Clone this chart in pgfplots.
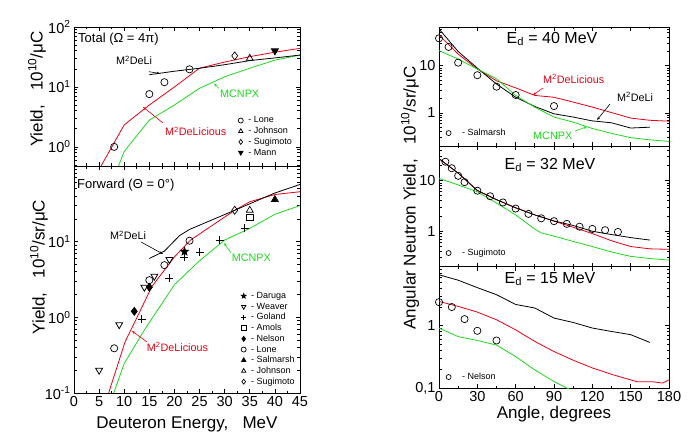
\documentclass[border=0pt]{standalone}
\usepackage{fontspec}
\setmainfont{Liberation Sans}
\usepackage{pgfplots}
\pgfplotsset{compat=1.18}
\usetikzlibrary{arrows.meta}
\definecolor{myred}{RGB}{228,0,20}
\definecolor{mygreen}{RGB}{30,215,30}
\pgfdeclareplotmark{fstar}{%
  \pgfpathmoveto{\pgfpointpolar{90}{\pgfplotmarksize}}%
  \pgfpathlineto{\pgfpointpolar{126}{0.42\pgfplotmarksize}}%
  \pgfpathlineto{\pgfpointpolar{162}{\pgfplotmarksize}}%
  \pgfpathlineto{\pgfpointpolar{198}{0.42\pgfplotmarksize}}%
  \pgfpathlineto{\pgfpointpolar{234}{\pgfplotmarksize}}%
  \pgfpathlineto{\pgfpointpolar{270}{0.42\pgfplotmarksize}}%
  \pgfpathlineto{\pgfpointpolar{306}{\pgfplotmarksize}}%
  \pgfpathlineto{\pgfpointpolar{342}{0.42\pgfplotmarksize}}%
  \pgfpathlineto{\pgfpointpolar{18}{\pgfplotmarksize}}%
  \pgfpathlineto{\pgfpointpolar{54}{0.42\pgfplotmarksize}}%
  \pgfpathclose\pgfusepathqfillstroke}
\newcommand{\fsTick}{\fontsize{14.5}{16}\selectfont}
\newcommand{\fsLab}{\fontsize{17}{19}\selectfont}
\newcommand{\fsAnn}{\fontsize{13}{15}\selectfont}
\newcommand{\fsCurve}{\fontsize{10.8}{12}\selectfont}
\newcommand{\fsLeg}{\fontsize{9}{10}\selectfont}
\newcommand{\fsEd}{\fontsize{16}{18}\selectfont}
\newcommand{\gL}{\hspace*{4pt}}
\newcommand{\gR}{\hspace*{10pt}}
\pgfplotsset{
  every axis/.append style={scale only axis,
    axis line style={line width=0.9pt}, tick style={black, line width=0.7pt},
    major tick length=4pt, minor tick length=2.5pt,
    tick label style={font=\fsTick},
    legend cell align=left, legend image post style={mark size=2.5pt}},
  every axis plot/.append style={line width=0.8pt},
  mk/.style={only marks, black, mark size=3.6pt, mark options={solid, line width=0.7pt}},
}
\begin{document}
\begin{tikzpicture}[x=1pt,y=1pt]
\path[use as bounding box] (0pt,0pt) rectangle (696pt,434pt);

% ---------------- top-left: total
\begin{axis}[at={(74pt,268pt)}, anchor=south west, width=226pt, height=139pt,
  ymode=log, /pgf/number format/assume math mode=true,
  xmin=0, xmax=45, xtick={0,5,...,45}, minor x tick num=1, xticklabels={},
  ymin=0.48, ymax=100, ytick={1,10,100},
  yticklabels={10\textsuperscript{0},10\textsuperscript{1},10\textsuperscript{2}},
  minor ytick={0.5,0.6,0.7,0.8,0.9,2,3,4,5,6,7,8,9,20,30,40,50,60,70,80,90},
  legend style={draw=none, fill=none, at={(0.726,0.367)}, anchor=north west, font=\fsLeg,
    row sep=0pt, inner sep=0pt, nodes={inner sep=1pt, text height=6.8pt, text depth=1.9pt}},
]
\addplot[myred, forget plot] coordinates {(5,0.42)(10,2.33)(15,5.0)(20,10)(25,20.6)(30,26)(35,32)(40,38)(45,44)};
\addplot[mygreen, forget plot] coordinates {(8.6,0.42)(10,0.84)(15,2.8)(20,5)(25,9.5)(30,14.8)(35,20.5)(40,28)(45,34)};
\addplot[black, forget plot] coordinates {(15,16)(20,18.3)(25,20.5)(30,23.5)(35,27.5)(40,30.5)(45,34)};
\addplot[mk, mark=o] coordinates {(8,1.0)(15,7.6)(18,12)(23,19.7)};
\addlegendentry{\gL- Lone}
\addplot[mk, mark=triangle, mark size=4pt] coordinates {(35,30)};
\addlegendentry{\gL- Johnson}
\addplot[mk, mark=diamond, mark size=4pt] coordinates {(32,33)};
\addlegendentry{\gL- Sugimoto}
\addplot[mk, mark=triangle*, mark size=4pt, mark options={rotate=180}] coordinates {(40,40)};
\addlegendentry{\gL- Mann}
\end{axis}

% ---------------- bottom-left: forward
\begin{axis}[at={(74pt,41pt)}, anchor=south west, width=226pt, height=227pt,
  ymode=log, /pgf/number format/assume math mode=true,
  xmin=0, xmax=45, xtick={0,5,...,45}, minor x tick num=1,
  ymin=0.1, ymax=100, ytick={0.1,1,10},
  yticklabels={10\textsuperscript{-1},10\textsuperscript{0},10\textsuperscript{1}},
  minor ytick={0.2,0.3,0.4,0.5,0.6,0.7,0.8,0.9,2,3,4,5,6,7,8,9,20,30,40,50,60,70,80,90},
  legend style={draw=none, fill=none, at={(0.739,0.4515)}, anchor=north west, font=\fsLeg,
    row sep=0pt, inner sep=0pt, nodes={inner sep=1pt, text height=6.8pt, text depth=1.9pt}},
]
\addplot[myred, forget plot] coordinates {(6.9,0.1)(10.2,0.48)(12,0.84)(15.5,2.55)(20,6.3)(23.2,10.5)(32,26)(35,33.7)(40,42)(45,45.7)};
\addplot[mygreen, forget plot] coordinates {(7.9,0.1)(10,0.245)(14,0.68)(20,2.7)(25,5.6)(30,10.5)(35,15)(40,23)(45,30)};
\addplot[black, forget plot] coordinates {(15,6.0)(18,7.5)(21,12)(23,14.5)(32,26)(40,44)(45,57)};
\addplot[mk, mark=fstar, mark size=4.2pt, fill=black] coordinates {(22,7.4)};
\addlegendentry{\gL- Daruga}
\addplot[mk, mark=triangle, mark size=4pt, mark options={rotate=180}] coordinates {(5,0.2)(9,0.8)(14,2.5)(16,3.5)(19,5.8)};
\addlegendentry{\gL- Weaver}
\addplot[mk, mark=+, mark size=4pt] coordinates {(13.5,0.95)(19,3.3)(22,6.3)(25,7.2)(29,10.5)(34,15)};
\addlegendentry{\gL- Goland}
\addplot[mk, mark=square, mark size=3.2pt] coordinates {(35,21)};
\addlegendentry{\gL- Amols}
\addplot[mk, mark=diamond*, mark size=4pt] coordinates {(12,1.2)(15,2.5)};
\addlegendentry{\gL- Nelson}
\addplot[mk, mark=o] coordinates {(8,0.39)(15,3.1)(18,4.9)(23,10.3)};
\addlegendentry{\gL- Lone}
\addplot[mk, mark=triangle*, mark size=4pt] coordinates {(40,36)};
\addlegendentry{\gL- Salmarsh}
\addplot[mk, mark=triangle, mark size=4pt] coordinates {(35,26)};
\addlegendentry{\gL- Johnson}
\addplot[mk, mark=diamond, mark size=4pt] coordinates {(32,26)};
\addlegendentry{\gL- Sugimoto}
\end{axis}

% ---------------- top-right: 40 MeV
\begin{axis}[at={(439pt,288pt)}, anchor=south west, width=230pt, height=119pt,
  ymode=log, /pgf/number format/assume math mode=true,
  xmin=0, xmax=180, xtick={0,30,...,180}, minor x tick num=1, xticklabels={},
  ymin=0.2, ymax=66, ytick={1,10}, yticklabels={1,10},
  minor ytick={0.2,0.3,0.4,0.5,0.6,0.7,0.8,0.9,2,3,4,5,6,7,8,9,20,30,40,50,60},
  legend style={draw=none, fill=none, at={(0.03,0.155)}, anchor=north west, font=\fsLeg,
    inner sep=0pt, nodes={inner sep=1pt, text height=6.8pt, text depth=1.9pt}},
]
\addplot[myred, forget plot] coordinates {(0,45)(15,17.6)(30,8.5)(45,4.8)(60,3.4)(75,2.35)(90,2.15)(105,1.7)(120,1.33)(135,1.02)(150,0.78)(165,0.7)(180,0.67)};
\addplot[black, forget plot] coordinates {(0,60)(15,20)(30,8.9)(45,4.1)(60,2.15)(75,1.37)(90,0.96)(105,0.82)(120,0.68)(135,0.62)(150,0.48)(165,0.5)};
\addplot[mygreen, forget plot] coordinates {(0,21)(15,13.8)(30,8.5)(45,5.3)(60,2.35)(75,1.32)(90,0.82)(105,0.64)(120,0.47)(135,0.37)(150,0.3)(165,0.27)(180,0.25)};
\addplot[mk, mark=o] coordinates {(0,38)(7.5,25)(15,11.6)(30,6.3)(45,3.6)(60,2.4)(90,1.4)};
\addlegendentry{\gR- Salmarsh}
\end{axis}

% ---------------- middle-right: 32 MeV
\begin{axis}[at={(439pt,167.3pt)}, anchor=south west, width=230pt, height=120.7pt,
  ymode=log, /pgf/number format/assume math mode=true,
  xmin=0, xmax=180, xtick={0,30,...,180}, minor x tick num=1, xticklabels={},
  ymin=0.2, ymax=48, ytick={1,10}, yticklabels={1,10},
  minor ytick={0.2,0.3,0.4,0.5,0.6,0.7,0.8,0.9,2,3,4,5,6,7,8,9,20,30,40},
  legend style={draw=none, fill=none, at={(0.03,0.159)}, anchor=north west, font=\fsLeg,
    inner sep=0pt, nodes={inner sep=1pt, text height=6.8pt, text depth=1.9pt}},
]
\addplot[myred, forget plot] coordinates {(0,27)(15,14)(30,6.3)(45,4.2)(60,2.9)(75,2.1)(90,1.58)(105,1.2)(120,0.9)(135,0.65)(150,0.5)(165,0.45)(180,0.44)};
\addplot[black, forget plot] coordinates {(0,27)(15,14)(30,6.4)(45,4.2)(60,2.9)(75,2.1)(90,1.6)(105,1.3)(120,1.0)(135,0.86)(150,0.75)(165,0.67)};
\addplot[mygreen, forget plot] coordinates {(0,11)(15,8.2)(30,6.0)(45,3.6)(60,2.1)(75,1.1)(80,0.93)(90,0.8)(105,0.63)(120,0.5)(135,0.39)(150,0.32)(165,0.29)(180,0.27)};
\addplot[mk, mark=o] coordinates {(5,23.5)(10,17.5)(15,12.4)(20,9.3)(30,6.3)(40,4.9)(50,3.7)(60,2.8)(70,2.2)(80,1.8)(90,1.58)(100,1.4)(110,1.23)(120,1.11)(130,1.05)(140,0.97)};
\addlegendentry{\gR- Sugimoto}
\end{axis}

% ---------------- bottom-right: 15 MeV
\begin{axis}[at={(439pt,46pt)}, anchor=south west, width=230pt, height=121.3pt,
  ymode=log, /pgf/number format/assume math mode=true,
  xmin=0, xmax=180, xtick={0,30,...,180}, minor x tick num=1,
  ymin=0.1, ymax=8.9, ytick={0.1,1}, yticklabels={{0,1},1},
  minor ytick={0.2,0.3,0.4,0.5,0.6,0.7,0.8,0.9,2,3,4,5,6,7,8},
  legend style={draw=none, fill=none, at={(0.03,0.136)}, anchor=north west, font=\fsLeg,
    inner sep=0pt, nodes={inner sep=1pt, text height=6.8pt, text depth=1.9pt}},
]
\addplot[black, forget plot] coordinates {(0,6.6)(15,5.4)(30,4.1)(45,3.16)(60,2.2)(75,1.93)(90,1.33)(105,1.13)(120,0.92)(135,0.81)(150,0.72)(165,0.54)};
\addplot[myred, forget plot] coordinates {(0,2.46)(15,2.05)(30,1.66)(45,1.25)(60,0.86)(75,0.56)(90,0.385)(105,0.28)(120,0.21)(135,0.166)(155,0.126)(167,0.126)(175,0.12)(180,0.135)};
\addplot[mygreen, forget plot] coordinates {(0,0.92)(15,0.67)(30,0.58)(45,0.49)(60,0.32)(75,0.195)(90,0.127)(100,0.1)(105,0.09)};
\addplot[mk, mark=o] coordinates {(0,2.4)(10,2.0)(20,1.28)(30,0.83)(45,0.58)};
\addlegendentry{\gR- Nelson}
\end{axis}

% ---------------- labels
\node[rotate=90, font=\fsLab] at (37pt,345pt) {Yield,\ \ \ 10\textsuperscript{10}/μC};
\node[rotate=90, font=\fsLab] at (39pt,167pt) {Yield,\ \ \ 10\textsuperscript{10}/sr/μC};
\node[font=\fsLab] at (187pt,10pt) {Deuteron Energy,\ \ \ MeV};
\node[rotate=90, font=\fsLab] at (410pt,236pt) {Angular Neutron Yield,\ \ \ 10\textsuperscript{10}/sr/μC};
\node[font=\fsLab] at (554pt,19.5pt) {Angle, degrees};

% ---------------- annotations top-left
\node[anchor=base west, font=\fsAnn, inner sep=0pt] at (78pt,391.3pt) {Total (Ω = 4π)};
\node[anchor=base west, font=\fsCurve, inner sep=0pt] at (116pt,369pt) {M\textsuperscript{2}DeLi};
\draw[line width=0.6pt, -{Stealth[length=3.5pt,width=2.6pt]}] (149pt,362.3pt) -- (160pt,360.5pt);
\node[anchor=base west, font=\fsCurve, inner sep=0pt, text=myred] at (165pt,298pt) {M\textsuperscript{2}DeLicious};
\draw[myred, line width=0.6pt, -{Stealth[length=3.5pt,width=2.6pt]}] (163pt,311pt) -- (143pt,327pt);
\node[anchor=base west, font=\fsCurve, inner sep=0pt, text=mygreen] at (220pt,336.7pt) {MCNPX};
\draw[mygreen, line width=0.6pt, -{Stealth[length=3.5pt,width=2.6pt]}] (219pt,345.5pt) -- (214pt,350.5pt);

% ---------------- annotations bottom-left
\node[anchor=base west, font=\fsAnn, inner sep=0pt] at (77pt,245.7pt) {Forward (Θ = 0°)};
\node[anchor=base west, font=\fsCurve, inner sep=0pt] at (110pt,194pt) {M\textsuperscript{2}DeLi};
\draw[line width=0.6pt, -{Stealth[length=3.5pt,width=2.6pt]}] (141pt,192pt) -- (163pt,180pt);
\node[anchor=base west, font=\fsCurve, inner sep=0pt, text=mygreen] at (231.7pt,172.3pt) {MCNPX};
\draw[mygreen, line width=0.6pt, -{Stealth[length=3.5pt,width=2.6pt]}] (231pt,181pt) -- (224pt,191pt);
\node[anchor=base west, font=\fsCurve, inner sep=0pt, text=myred] at (146.7pt,82.3pt) {M\textsuperscript{2}DeLicious};
\draw[myred, line width=0.6pt, -{Stealth[length=3.5pt,width=2.6pt]}] (147pt,92pt) -- (132pt,103pt);

% ---------------- annotations right
\node[anchor=base, font=\fsEd, inner sep=0pt] at (552pt,390.7pt) {E\textsubscript{d} = 40 MeV};
\node[anchor=base, font=\fsEd, inner sep=0pt] at (550pt,264.7pt) {E\textsubscript{d} = 32 MeV};
\node[anchor=base, font=\fsEd, inner sep=0pt] at (550pt,150.7pt) {E\textsubscript{d} = 15 MeV};
\node[anchor=base west, font=\fsCurve, inner sep=0pt, text=myred] at (543pt,350.7pt) {M\textsuperscript{2}DeLicious};
\draw[myred, line width=0.6pt, -{Stealth[length=3.5pt,width=2.6pt]}] (543pt,346pt) -- (533pt,339pt);
\node[anchor=base west, font=\fsCurve, inner sep=0pt] at (617pt,332.3pt) {M\textsuperscript{2}DeLi};
\draw[line width=0.6pt, -{Stealth[length=3.5pt,width=2.6pt]}] (610pt,330pt) -- (597pt,314pt);
\node[anchor=base west, font=\fsCurve, inner sep=0pt, text=mygreen] at (533pt,294pt) {MCNPX};
\draw[mygreen, line width=0.6pt, -{Stealth[length=3.5pt,width=2.6pt]}] (575pt,303pt) -- (587pt,307.3pt);
\end{tikzpicture}
\end{document}
